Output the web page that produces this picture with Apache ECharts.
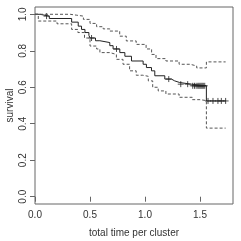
<!DOCTYPE html>
<html><head><meta charset="utf-8">
<script src="https://cdn.jsdelivr.net/npm/echarts@6/dist/echarts.min.js"></script>
<style>html,body{margin:0;padding:0;background:#fff}#c{width:241px;height:241px}</style>
</head><body><div id="c"></div>
<script>
// Kaplan-Meier estimate (step points)
const survTime = [0, 0.045, 0.13, 0.333, 0.393, 0.423, 0.454, 0.49, 0.50, 0.55, 0.59, 0.68, 0.71, 0.771, 0.817, 0.877, 0.983, 1.013, 1.059, 1.089, 1.18, 1.24, 1.27, 1.316, 1.42, 1.558, 1.733];
const survVal  = [1.0, 0.99, 0.977, 0.957, 0.935, 0.917, 0.90, 0.885, 0.87, 0.855, 0.845, 0.828, 0.81, 0.79, 0.77, 0.744, 0.726, 0.708, 0.69, 0.663, 0.645, 0.635, 0.626, 0.617, 0.608, 0.525, 0.525];
// upper confidence limit
const upperTime = [0, 0.32, 0.38, 0.44, 0.50, 0.56, 0.62, 0.68, 0.77, 0.83, 0.92, 1.01, 1.06, 1.10, 1.19, 1.31, 1.41, 1.47, 1.558, 1.733];
const upperVal  = [1.0, 0.995, 0.99, 0.972, 0.95, 0.932, 0.92, 0.908, 0.88, 0.854, 0.835, 0.81, 0.78, 0.757, 0.744, 0.726, 0.717, 0.706, 0.739, 0.739];
// lower confidence limit
const lowerTime = [0, 0.03, 0.2, 0.333, 0.39, 0.45, 0.50, 0.56, 0.59, 0.68, 0.74, 0.80, 0.86, 0.92, 0.98, 1.03, 1.07, 1.12, 1.19, 1.31, 1.43, 1.50, 1.558, 1.733];
const lowerVal  = [1.0, 0.963, 0.948, 0.917, 0.90, 0.87, 0.826, 0.81, 0.79, 0.78, 0.753, 0.726, 0.69, 0.666, 0.66, 0.635, 0.60, 0.58, 0.563, 0.545, 0.532, 0.527, 0.376, 0.376];
// censored observations
const censTime = [0.105, 0.514, 0.741, 1.216, 1.325, 1.388, 1.434, 1.45, 1.465, 1.48, 1.49, 1.50, 1.51, 1.52, 1.53, 1.543, 1.573, 1.618, 1.663, 1.694, 1.733];
const censVal  = [0.99, 0.87, 0.81, 0.645, 0.617, 0.617, 0.608, 0.608, 0.608, 0.608, 0.608, 0.608, 0.608, 0.608, 0.608, 0.608, 0.525, 0.525, 0.525, 0.525, 0.525];
// axis ticks
const xTicks = [0, 0.5, 1.0, 1.5];
const yTicks = [0, 0.2, 0.4, 0.6, 0.8, 1.0];

const zip = (a, b) => a.map((v, i) => [v, b[i]]);
const font = '"Liberation Sans", Arial, sans-serif';
const chart = echarts.init(document.getElementById('c'), null, {renderer: 'canvas'});
chart.setOption({
  animation: false,
  backgroundColor: '#fff',
  grid: {left: 35, top: 7, right: 8, bottom: 37, show: true, borderColor: '#666', borderWidth: 1, backgroundColor: 'transparent', containLabel: false, outerBoundsMode: 'none'},
  xAxis: {
    type: 'value', min: 0, max: 1.8,
    axisLine: {show: false},
    splitLine: {show: false},
    axisTick: {show: true, customValues: xTicks, length: 5, lineStyle: {color: '#666'}},
    axisLabel: {customValues: xTicks, formatter: v => v.toFixed(1), color: '#333', fontSize: 10, fontFamily: font, margin: 6},
    name: 'total time per cluster', nameLocation: 'middle', nameGap: 24, nameMoveOverlap: false,
    nameTextStyle: {color: '#333', fontSize: 10, fontFamily: font}
  },
  yAxis: {
    type: 'value', min: -0.04, max: 1.04,
    axisLine: {show: false},
    splitLine: {show: false},
    axisTick: {show: true, customValues: yTicks, length: 5, lineStyle: {color: '#666'}},
    axisLabel: {customValues: yTicks, formatter: v => v.toFixed(1), rotate: 90, color: '#333', fontSize: 10, fontFamily: font, margin: 7},
    name: 'survival', nameLocation: 'middle', nameGap: 20, nameMoveOverlap: false,
    nameTextStyle: {color: '#333', fontSize: 10, fontFamily: font}
  },
  series: [
    {type: 'line', step: 'end', data: zip(survTime, survVal), showSymbol: false, lineStyle: {color: '#222', width: 1}},
    {type: 'line', step: 'end', data: zip(upperTime, upperVal), showSymbol: false, lineStyle: {color: '#555', width: 1, type: [3, 2]}},
    {type: 'line', step: 'end', data: zip(lowerTime, lowerVal), showSymbol: false, lineStyle: {color: '#555', width: 1, type: [3, 2]}},
    {type: 'scatter', data: zip(censTime, censVal), symbol: 'path://M5 0L5 10M0 5L10 5', symbolSize: 6,
     itemStyle: {color: 'transparent', borderColor: '#222', borderWidth: 1}}
  ]
});
</script></body></html>
